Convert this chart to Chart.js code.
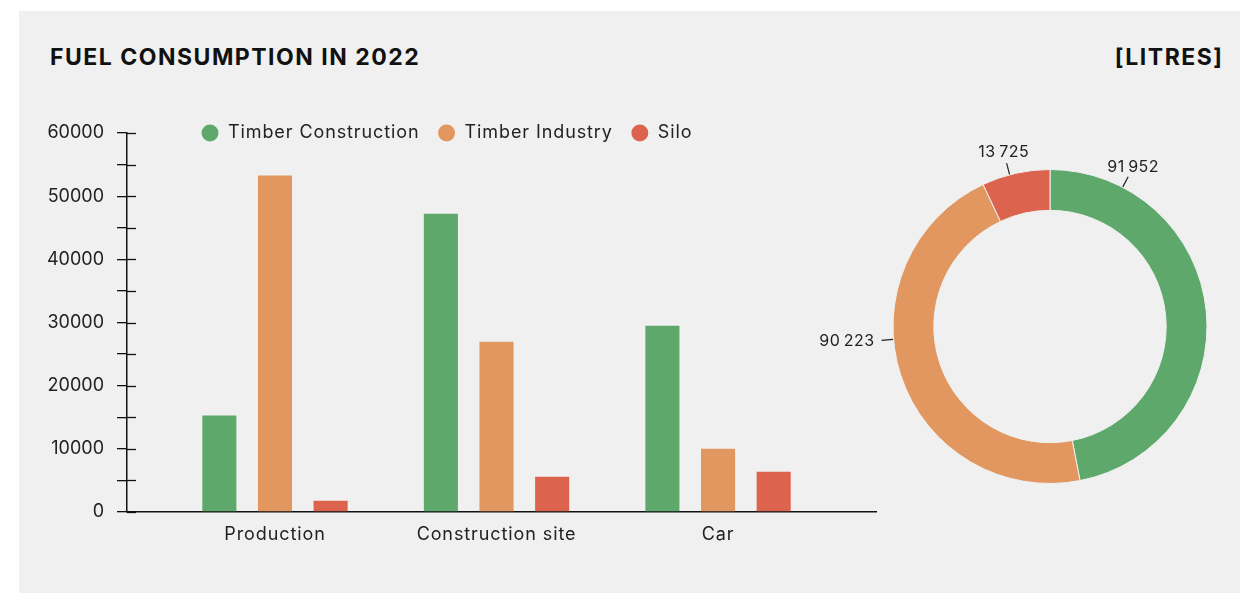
<!DOCTYPE html>
<html><head><meta charset="utf-8">
<script src="https://cdn.jsdelivr.net/npm/chart.js@4.4.1/dist/chart.umd.min.js"></script>
<style>
html,body{margin:0;padding:0;background:#fff;width:1240px;height:593px;overflow:hidden;font-family:Inter,sans-serif;}
#panel{position:absolute;left:19px;top:11px;width:1221px;height:582px;background:#eff0ef;}
.hd{position:absolute;top:46px;font:700 23px/23px Inter,sans-serif;color:#111;letter-spacing:1.5px;white-space:nowrap;}
#title{left:50px;}
#unit{right:16.5px;}
#bars{position:absolute;left:0;top:0;}
#donut{position:absolute;left:800px;top:120px;}
</style></head>
<body>
<div id="panel"></div>
<div class="hd" id="title">FUEL CONSUMPTION IN 2022</div>
<div class="hd" id="unit">[LITRES]</div>
<canvas id="bars" width="900" height="593"></canvas>
<canvas id="donut" width="440" height="420"></canvas>
<script>
const categories = ['Production', 'Construction site', 'Car'];
const seriesNames = ['Timber Construction', 'Timber Industry', 'Silo'];
const timberConstruction = [15260, 47220, 29472];
const timberIndustry = [53260, 26960, 10003];
const silo = [1800, 5570, 6355];
const donutTotals = [91952, 90223, 13725];
const colors = ['#5fa86c', '#e1975f', '#dc634e'];

Chart.defaults.font.family = 'Inter, sans-serif';
Chart.defaults.color = '#222';

const seriesValues = [timberConstruction, timberIndustry, silo];

const spacing = {
  id: 'spacing',
  beforeUpdate(chart) { chart.ctx.letterSpacing = '0.9px'; },
  beforeDraw(chart) { chart.ctx.letterSpacing = '0.9px'; }
};

const legendPlacer = {
  id: 'legendPlacer',
  beforeLayout(chart) {
    const lg = chart.legend;
    if (lg && !lg._patched) {
      const f = lg.fit;
      lg.fit = function () { f.call(this); this.height = 0; };
      lg._patched = true;
    }
  },
  afterLayout(chart) {
    const lg = chart.legend;
    lg.left = 183; lg.right = 893; lg.width = 710;
    lg.top = 106; lg.bottom = 166; lg.height = 60;
  }
};

const crossTicks = {
  id: 'crossTicks',
  afterDraw(chart) {
    const s = chart.scales.y;
    const ctx = chart.ctx;
    ctx.save();
    ctx.strokeStyle = '#111';
    ctx.lineWidth = 1.3;
    s.ticks.forEach(t => {
      const py = Math.round(s.getPixelForValue(t.value)) + 0.5;
      ctx.beginPath();
      ctx.moveTo(s.right, py);
      ctx.lineTo(s.right + 9, py);
      ctx.stroke();
    });
    ctx.restore();
  }
};

new Chart(document.getElementById('bars'), {
  type: 'bar',
  data: {
    datasets: seriesNames.map((n, k) => ({
      label: n,
      data: categories.map((c, i) => ({x: i, y: seriesValues[k][i]})),
      backgroundColor: colors[k],
      borderWidth: 0,
      categoryPercentage: 0.7534,
      barPercentage: 0.6126
    }))
  },
  options: {
    responsive: false,
    animation: false,
    layout: {padding: {left: 0, top: 133, right: 24, bottom: 41}},
    plugins: {
      tooltip: {enabled: false},
      legend: {
        display: true,
        position: 'top',
        align: 'start',
        labels: {
          usePointStyle: true,
          pointStyle: 'circle',
          boxWidth: 18,
          boxHeight: 12,
          padding: 18,
          color: '#222',
          font: {size: 18, family: 'Inter, sans-serif'}
        }
      }
    },
    scales: {
      x: {
        type: 'linear',
        min: -0.668,
        max: 2.713,
        offset: false,
        grid: {display: false, drawTicks: false},
        border: {display: true, color: '#111', width: 1.5},
        ticks: {
          stepSize: 1,
          includeBounds: false,
          autoSkip: false,
          maxRotation: 0,
          padding: 12,
          color: '#222',
          font: {size: 18},
          callback: v => (Number.isInteger(v) && categories[v] !== undefined) ? categories[v] : ''
        },
        afterFit: s => { s.height = 40; }
      },
      y: {
        min: 0,
        max: 60000,
        grid: {display: true, drawOnChartArea: false, drawTicks: true, tickLength: 10, color: '#111', lineWidth: 1.3},
        border: {display: true, color: '#111', width: 1.5},
        ticks: {
          stepSize: 5000,
          autoSkip: false,
          padding: 13,
          color: '#222',
          font: {size: 18},
          callback: v => (v % 10000 === 0 ? String(v) : '')
        },
        afterFit: s => {
          s.width = 127;
          if (!s._lsPatched) {
            const d = s.draw;
            s.draw = function (a) {
              const c = this.ctx;
              const prev = c.letterSpacing;
              c.letterSpacing = '0px';
              d.call(this, a);
              c.letterSpacing = prev;
            };
            s._lsPatched = true;
          }
        }
      }
    }
  },
  plugins: [spacing, legendPlacer, crossTicks]
});

const labelFractions = [0.163, 0.581, 0.41];
const fmt = v => String(v).replace(/\B(?=(\d{3})+(?!\d))/g, '\u2009');

const donutLabels = {
  id: 'donutLabels',
  afterDraw(chart) {
    const meta = chart.getDatasetMeta(0);
    const ctx = chart.ctx;
    ctx.save();
    ctx.font = '16px Inter, sans-serif';
    ctx.letterSpacing = '0.5px';
    ctx.fillStyle = '#222';
    ctx.strokeStyle = '#222';
    ctx.lineWidth = 1.2;
    meta.data.forEach((arc, i) => {
      const p = arc.getProps(['x', 'y', 'startAngle', 'endAngle', 'outerRadius'], true);
      const a = p.startAngle + labelFractions[i] * (p.endAngle - p.startAngle);
      const c = Math.cos(a), s = Math.sin(a);
      const r0 = p.outerRadius + 0.5, r1 = p.outerRadius + 12;
      ctx.beginPath();
      ctx.moveTo(p.x + c * r0, p.y + s * r0);
      ctx.lineTo(p.x + c * r1, p.y + s * r1);
      ctx.stroke();
      const txt = fmt(chart.data.datasets[0].data[i]);
      ctx.textBaseline = 'middle';
      if (Math.abs(c) > 0.8) {
        const rt = p.outerRadius + 19;
        ctx.textAlign = c < 0 ? 'right' : 'left';
        ctx.fillText(txt, p.x + c * rt, p.y + s * rt);
      } else {
        const rt = p.outerRadius + 23;
        ctx.textAlign = 'center';
        ctx.fillText(txt, p.x + c * rt, p.y + s * rt);
      }
    });
    ctx.restore();
  }
};

new Chart(document.getElementById('donut'), {
  type: 'doughnut',
  data: {
    labels: seriesNames,
    datasets: [{
      data: donutTotals,
      backgroundColor: colors,
      borderColor: '#eff0ef',
      borderWidth: 1
    }]
  },
  options: {
    responsive: false,
    animation: false,
    cutout: '74%',
    layout: {padding: {left: 92.5, right: 32.5, top: 49, bottom: 56}},
    plugins: {legend: {display: false}, tooltip: {enabled: false}}
  },
  plugins: [donutLabels]
});
</script>
</body></html>
